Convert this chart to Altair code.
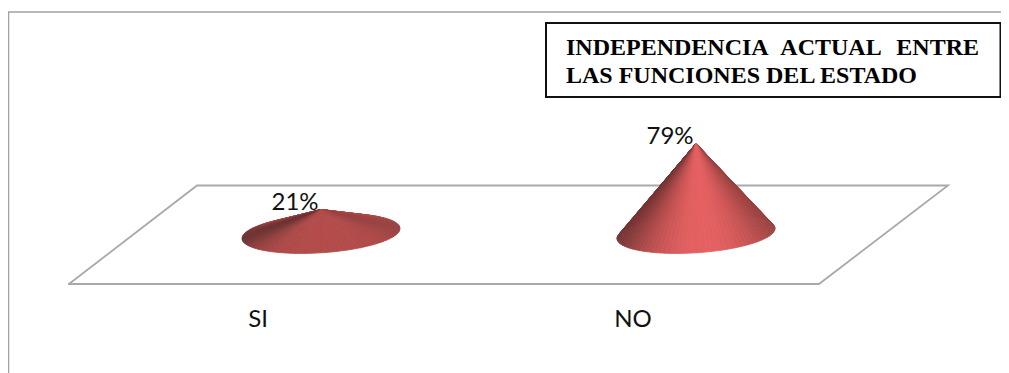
import numpy as np
import pandas as pd
import altair as alt

categories = ["SI", "NO"]
values = [21, 79]
value_labels = ["21%", "79%"]
title_line1 = ["INDEPENDENCIA", "ACTUAL", "ENTRE"]
title_line2 = "LAS FUNCIONES DEL ESTADO"

W, H = 993, 365
ox, oy = 8, 8  # page margin: the scales below work in page pixels


def hexc(rgb):
    return "#%02x%02x%02x" % tuple(int(round(max(0, min(255, v)))) for v in rgb)


# layout of the pseudo-3D scene
centers = {"SI": 321, "NO": 696}
peak_colour = {"SI": (178, 75, 74), "NO": (229, 97, 97)}
edge_colour = {"SI": (108, 50, 50), "NO": (118, 52, 52)}
falloff = {"SI": 5.0, "NO": 2.0}
base_y = 233.5
semi_a, semi_b, tilt = 79, 19.3, 5
px_per_unit = 1.14

rows = []
for cat, val in zip(categories, values):
    cx = centers[cat]
    apex = base_y - val * px_per_unit
    n = 96
    ts = np.linspace(0, 2 * np.pi, n + 1)
    wedge_list = sorted(range(n), key=lambda i: np.sin((ts[i] + ts[i + 1]) / 2))
    for rank, i in enumerate(wedge_list):
        tm = (ts[i] + ts[i + 1]) / 2
        u = np.cos(tm)
        s = 1 - min(1, abs((u - 0.1) / 1.1)) ** falloff[cat]
        col = hexc(np.array(edge_colour[cat]) + s * (np.array(peak_colour[cat]) - np.array(edge_colour[cat])))
        key = f"{cat}{rank:03d}"
        pts = [(cx, apex)]
        for t in (ts[i], ts[i + 1]):
            pts.append((cx + semi_a * np.cos(t), base_y + semi_b * np.sin(t) - tilt * np.cos(t)))
        for j, (x, y) in enumerate(pts):
            rows.append({"x": x, "y": y, "k": key, "o": j, "c": col})
cones = pd.DataFrame(rows)

xs = alt.Scale(domain=[ox, ox + W], range=[0, W], nice=False, zero=False)
ys = alt.Scale(domain=[oy, oy + H], range=[0, H], nice=False, zero=False)
X = lambda f="x": alt.X(f"{f}:Q", scale=xs, axis=None)
Y = lambda f="y": alt.Y(f"{f}:Q", scale=ys, axis=None)


def path(pts, color, sw):
    d = pd.DataFrame({"x": [p[0] for p in pts], "y": [p[1] for p in pts], "o": range(len(pts))})
    return alt.Chart(d).mark_line(color=color, strokeWidth=sw, strokeCap="square", strokeJoin="miter", clip=True).encode(
        x=X(), y=Y(), order="o:Q"
    )


frame = path([(8.5, 373), (8.5, 12), (1001, 12)], "#a3a3a3", 1.6)
floor = path([(69, 284), (819, 284), (948, 185.5), (197, 185.5), (69, 284)], "#a9a9a9", 1.8)

wedges = (
    alt.Chart(cones)
    .mark_line(strokeWidth=0.8, interpolate="linear-closed")
    .encode(
        x=X(),
        y=Y(),
        detail="k:N",
        order="o:Q",
        stroke=alt.Stroke("c:N", scale=None),
        fill=alt.Fill("c:N", scale=None),
    )
)

box = path([(546, 23), (1000.5, 23), (1000.5, 97), (546, 97), (546, 23)], "#111111", 2)

lab_df = pd.DataFrame(
    {
        "t": value_labels + categories,
        "x": [centers[c] - 26 for c in categories] + [centers[c] - 63 for c in categories],
        "y": [base_y - v * px_per_unit + 0.5 for v in values] + [327, 327],
    }
)
labels = (
    alt.Chart(lab_df)
    .mark_text(font="Lato", fontSize=24, color="#111111", align="center", baseline="alphabetic")
    .encode(x=X(), y=Y(), text="t:N")
)

tb = []
for w, xp, al in zip(title_line1, [566, 831, 979], ["left", "center", "right"]):
    tb.append((w, xp, 55, al))
tb.append((title_line2, 566, 83, "left"))
title_layers = [
    alt.Chart(pd.DataFrame({"t": [w], "x": [xp], "y": [yp]}))
    .mark_text(font="Liberation Serif", fontWeight="bold", fontSize=24, color="#000000", align=al, baseline="alphabetic")
    .encode(x=X(), y=Y(), text="t:N")
    for w, xp, yp, al in tb
]

chart = (
    alt.layer(frame, floor, wedges, labels, box, *title_layers)
    .properties(width=W, height=H, padding=0, background="white", autosize=alt.AutoSizeParams(type="none"))
    .configure_view(stroke=None)
)

chart.save("out.html", embed_options={"renderer": "svg", "actions": False})
